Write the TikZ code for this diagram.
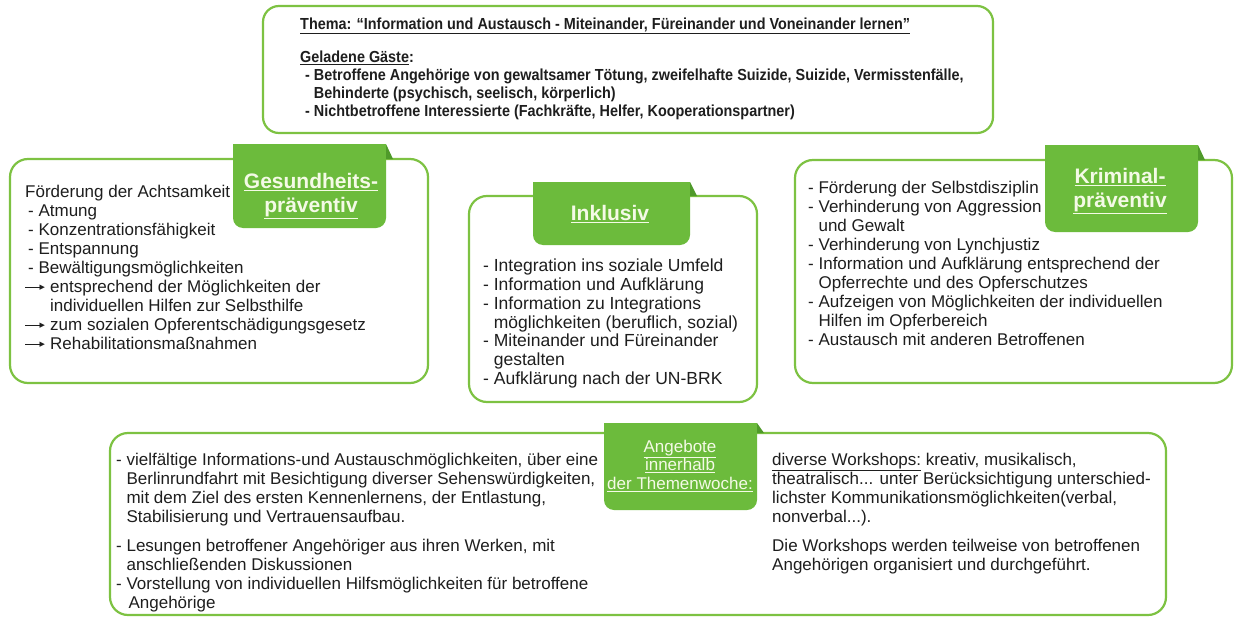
\documentclass[tikz,border=0pt]{standalone}
\usepackage{fontspec}
\setmainfont{Liberation Sans}
\newfontfamily\narrowfont[FakeStretch=0.9]{Liberation Sans}
\newfontfamily\symfont{DejaVu Sans}
\definecolor{boxgreen}{HTML}{7DC242}
\definecolor{tabgreen}{HTML}{6CBB3C}
\definecolor{folddark}{HTML}{4F9A2A}
\definecolor{tabtext}{HTML}{F4FAE6}
\definecolor{ink}{HTML}{1E1E1E}
\newcommand\ind{\hphantom{- }}
\newcommand\arr{\makebox[25pt][l]{$\vcenter{\hbox{\rule{16pt}{1.2pt}}}\kern-1.5pt\vcenter{\hbox{\symfont\fontsize{7}{7}\selectfont ▶}}$}}
\newcommand\greentab[5]{%
  \fill[tabgreen,rounded corners=10pt] (#1,#3) rectangle (#2,#4);
  \fill[tabgreen] (#1,#3) rectangle (#2,#3+20);
  \fill[folddark] (#2,#3) -- (#2+7,#5) -- (#2,#5) -- cycle;}
\begin{document}
\begin{tikzpicture}[x=1pt,y=-1pt,
  frame/.style={draw=boxgreen,line width=2.2pt,rounded corners=18pt,fill=white},
  body/.style={anchor=north west,inner sep=0pt,align=left,text=ink,font=\fontsize{17}{19}\selectfont},
  toptext/.style={anchor=north west,inner sep=0pt,align=left,text=ink,font=\narrowfont\bfseries\fontsize{16}{18}\selectfont},
  tablabel/.style={anchor=north,inner sep=0pt,align=center,text=tabtext,font=\bfseries\fontsize{21}{24}\selectfont},
  smalltablabel/.style={anchor=north,inner sep=0pt,align=center,text=tabtext,font=\fontsize{17}{18.5}\selectfont}]
\useasboundingbox (0,0) rectangle (1234,618);
% boxes
\draw[frame,rounded corners=16pt] (263,6) rectangle (993,133);
\draw[frame] (10,159) rectangle (428,383);
\draw[frame] (469,196) rectangle (757,402);
\draw[frame] (795,160) rectangle (1232,383);
\draw[frame] (110,433) rectangle (1166,615);
% tabs
\greentab{233}{386}{144}{228}{159}
\greentab{533}{690}{182}{245}{196}
\greentab{1045}{1198}{145}{232}{160}
\greentab{604}{757}{423}{510}{433}
% top text
\node[toptext] (thema) at (300,16.4) {\strut\underline{Thema: “Information und Austausch - Miteinander, Füreinander und Voneinander lernen”}\\[15pt]
\underline{Geladene Gäste}:\\
\hspace*{5pt}- Betroffene Angehörige von gewaltsamer Tötung, zweifelhafte Suizide, Suizide, Vermisstenfälle,\\
\hspace*{5pt}\ind Behinderte (psychisch, seelisch, körperlich)\\
\hspace*{5pt}- Nichtbetroffene Interessierte (Fachkräfte, Helfer, Kooperationspartner)};
% tab labels
\node[tablabel] (gesund) at (311,171.2) {\strut\underline{Gesundheits-}\\\underline{präventiv}};
\node[tablabel] (inkl) at (610,203.2) {\strut\underline{Inklusiv}};
\node[tablabel] (krim) at (1120,166.2) {\strut\underline{Kriminal-}\\\underline{präventiv}};
\node[smalltablabel] (angebote) at (680,439) {\strut\underline{Angebote}\\\underline{innerhalb}\\\underline{der Themenwoche:}};
% left body
\node[body] (leftbody) at (25,183.7) {\strut Förderung der Achtsamkeit\\
\hspace*{3pt}- Atmung\\
\hspace*{3pt}- Konzentrationsfähigkeit\\
\hspace*{3pt}- Entspannung\\
\hspace*{3pt}- Bewältigungsmöglichkeiten\\
\arr entsprechend der Möglichkeiten der\\
\hspace*{25pt}individuellen Hilfen zur Selbsthilfe\\
\arr zum sozialen Opferentschädigungsgesetz\\
\arr Rehabilitationsmaßnahmen};
% middle body
\node[body,font=\fontsize{17.5}{18.7}\selectfont] (midbody) at (483,258.7) {\strut - Integration ins soziale Umfeld\\
- Information und Aufklärung\\
- Information zu Integrations\\
\ind möglichkeiten (beruflich, sozial)\\
- Miteinander und Füreinander\\
\ind gestalten\\
- Aufklärung nach der UN-BRK};
% right body
\node[body] (rightbody) at (808,179.7) {\strut - Förderung der Selbstdisziplin\\
- Verhinderung von Aggression\\
\ind und Gewalt\\
- Verhinderung von Lynchjustiz\\
- Information und Aufklärung entsprechend der\\
\ind Opferrechte und des Opferschutzes\\
- Aufzeigen von Möglichkeiten der individuellen\\
\ind Hilfen im Opferbereich\\
- Austausch mit anderen Betroffenen};
% bottom left body
\node[body] (botleft) at (116,451.7) {\strut - vielfältige Informations-und Austauschmöglichkeiten, über eine\\
\ind Berlinrundfahrt mit Besichtigung diverser Sehenswürdigkeiten,\\
\ind mit dem Ziel des ersten Kennenlernens, der Entlastung,\\
\ind Stabilisierung und Vertrauensaufbau.\\[10pt]
- Lesungen betroffener Angehöriger aus ihren Werken, mit\\
\ind anschließenden Diskussionen\\
- Vorstellung von individuellen Hilfsmöglichkeiten für betroffene\\
\ind\hspace*{2pt}Angehörige};
% bottom right body
\node[body] (botright) at (772,451.7) {\strut\underline{diverse Workshops:} kreativ, musikalisch,\\
theatralisch... unter Berücksichtigung unterschied-\\
lichster Kommunikationsmöglichkeiten(verbal,\\
nonverbal...).\\[10pt]
Die Workshops werden teilweise von betroffenen\\
Angehörigen organisiert und durchgeführt.};
\end{tikzpicture}
\end{document}
